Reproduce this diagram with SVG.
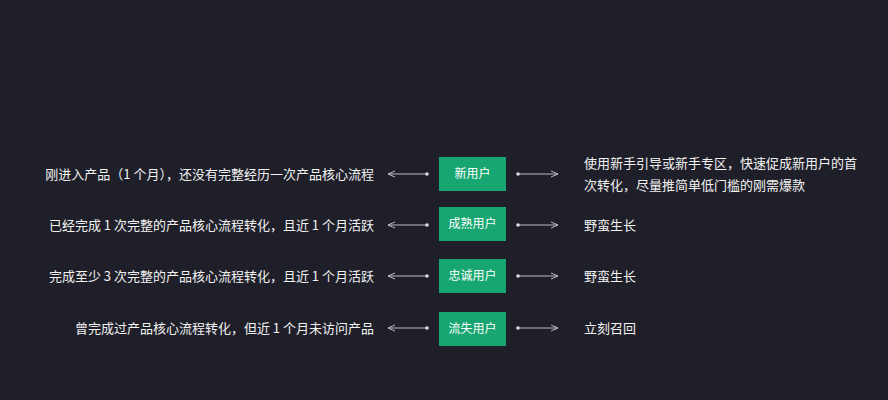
<svg xmlns="http://www.w3.org/2000/svg" width="888" height="400" viewBox="0 0 888 400">
<defs>
<style>
text{font-family:"Noto Sans CJK SC","Noto Sans",sans-serif;font-size:13px;fill:#f2f2f2}
.n{font-size:12px;text-anchor:middle;fill:#fff}
.l{text-anchor:end}
rect.b{fill:#17a672}
line{stroke:#bbb;stroke-width:1}
.d{fill:#ddd}
</style>
<marker id="a" viewBox="0 0 8 8" refX="7" refY="4" markerWidth="8" markerHeight="8" orient="auto-start-reverse" markerUnits="userSpaceOnUse"><path d="M0,1 L7,4 L0,7" fill="none" stroke="#bbb" stroke-width="1"/></marker>
</defs>
<rect width="888" height="400" fill="#1f1f29"/>
<g id="connectors">
<line x1="427" y1="174" x2="388" y2="174" marker-end="url(#a)"/><circle class="d" cx="427" cy="174" r="1.8"/>
<line x1="518" y1="174" x2="558" y2="174" marker-end="url(#a)"/><circle class="d" cx="518" cy="174" r="1.8"/>
<line x1="427" y1="225" x2="388" y2="225" marker-end="url(#a)"/><circle class="d" cx="427" cy="225" r="1.8"/>
<line x1="518" y1="225" x2="558" y2="225" marker-end="url(#a)"/><circle class="d" cx="518" cy="225" r="1.8"/>
<line x1="427" y1="276" x2="388" y2="276" marker-end="url(#a)"/><circle class="d" cx="427" cy="276" r="1.8"/>
<line x1="518" y1="276" x2="558" y2="276" marker-end="url(#a)"/><circle class="d" cx="518" cy="276" r="1.8"/>
<line x1="427" y1="328" x2="388" y2="328" marker-end="url(#a)"/><circle class="d" cx="427" cy="328" r="1.8"/>
<line x1="518" y1="328" x2="558" y2="328" marker-end="url(#a)"/><circle class="d" cx="518" cy="328" r="1.8"/>
</g>
<g id="n1"><rect class="b" x="439" y="157" width="67" height="34"/><text class="n" x="472.5" y="178">新用户</text></g>
<g id="n2"><rect class="b" x="439" y="207" width="67" height="34"/><text class="n" x="472.5" y="228">成熟用户</text></g>
<g id="n3"><rect class="b" x="439" y="259" width="67" height="34"/><text class="n" x="472.5" y="280">忠诚用户</text></g>
<g id="n4"><rect class="b" x="439" y="312" width="67" height="34"/><text class="n" x="472.5" y="333">流失用户</text></g>
<g id="labels">
<text class="l" x="374" y="179">刚进入产品（1 个月），还没有完整经历一次产品核心流程</text>
<text class="l" x="374" y="230">已经完成 1 次完整的产品核心流程转化，且近 1 个月活跃</text>
<text class="l" x="374" y="281">完成至少 3 次完整的产品核心流程转化，且近 1 个月活跃</text>
<text class="l" x="374" y="333">曾完成过产品核心流程转化，但近 1 个月未访问产品</text>
<text x="584" y="168">使用新手引导或新手专区，快速促成新用户的首</text>
<text x="584" y="190">次转化，尽量推简单低门槛的刚需爆款</text>
<text x="584" y="230">野蛮生长</text>
<text x="584" y="281">野蛮生长</text>
<text x="584" y="333">立刻召回</text>
</g>
</svg>
